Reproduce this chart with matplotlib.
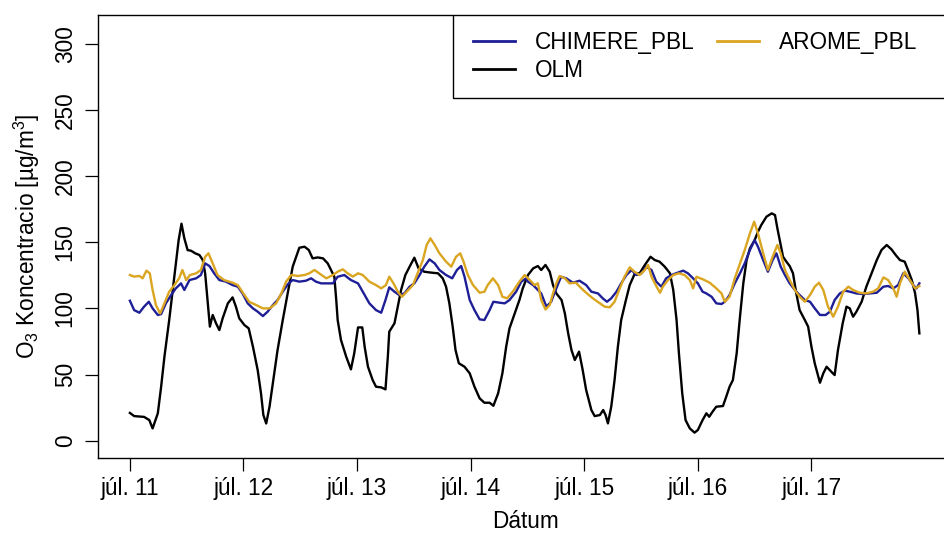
import matplotlib
matplotlib.use("Agg")
import matplotlib.pyplot as plt
from matplotlib.patches import Rectangle
from matplotlib.lines import Line2D

plt.rcParams["font.family"] = ["Liberation Sans", "DejaVu Sans"]
plt.rcParams["mathtext.fontset"] = "custom"
plt.rcParams["mathtext.rm"] = "Liberation Sans"
plt.rcParams["mathtext.it"] = "Liberation Sans:italic"

# hours since jul. 11 00:00, ozone in ug/m3
olm_h = [0, 0.9, 3.0, 4.1, 4.8, 5.9, 6.6, 7.3, 8.3, 9.4, 10.3, 10.9, 11.5, 12.2, 12.9,
         13.8, 14.7, 15.4, 15.9, 16.4, 16.9, 17.5, 18.2, 18.9, 19.6, 20.7, 21.7, 22.4,
         23.1, 24.2, 25.1, 26.0, 27.0, 27.7, 28.2, 28.8, 29.5, 30.2, 31.2, 32.3, 33.4,
         34.4, 35.8, 36.9, 37.8, 38.6, 39.7, 40.8, 41.8, 43.2, 43.6, 43.9, 44.6, 45.7,
         46.7, 47.4, 48.2, 49.1, 49.6, 50.3, 51.3, 52.0, 53.1, 54.0, 54.5, 54.8, 55.9,
         56.6, 57.3, 58.2, 59.1, 60.1, 61.0, 62.2, 63.7, 65.1, 66.1, 66.8, 67.5, 68.2,
         68.8, 69.5, 70.7, 71.8, 72.8, 73.9, 74.9, 76.0, 76.8, 77.8, 78.7, 79.5, 80.2,
         81.3, 82.3, 83.0, 84.1, 85.2, 86.2, 86.9, 87.8, 88.7, 89.4, 90.1, 91.2, 91.9,
         92.6, 93.3, 94.0, 94.9, 95.6, 96.4, 97.5, 98.2, 99.3, 100.0, 100.5, 101.0,
         101.7, 102.4, 103.1, 103.8, 104.8, 105.6, 106.7, 107.7, 108.8, 109.5, 110.0,
         110.9, 111.9, 113.0, 114.1, 114.8, 115.5, 116.0, 116.7, 117.4, 118.3, 119.3,
         120.0, 121.0, 121.8, 122.4, 123.1, 123.9, 125.3, 126.0, 126.7, 127.4, 128.2,
         128.9, 129.6, 130.3, 131.0, 132.0, 132.7, 133.4, 134.5, 135.6, 136.3, 136.8,
         137.3, 138.0, 138.7, 139.4, 140.1, 140.8, 141.5, 142.6, 143.3, 144.0, 144.7,
         145.8, 146.5, 147.2, 148.2, 148.9, 149.6, 150.6, 151.4, 152.1, 152.8, 153.5,
         154.6, 155.6, 156.7, 157.8, 158.8, 159.9, 160.9, 161.8, 162.7, 163.7, 164.4,
         165.2, 165.9, 166.4, 166.8]
olm_v = [21, 18.6, 18, 15.6, 9.3, 20.7, 40.8, 63.5, 91, 124, 151.6, 164, 153, 144, 143.6,
         141.6, 140.3, 136.5, 126.5, 106.3, 86.2, 95, 88.7, 83.6, 92.5, 103.8, 108.3, 101.3,
         92.5, 87.4, 84.9, 71, 53.4, 35.8, 19.4, 13, 25.7, 43.3, 68.5, 91.2, 112.6,
         131.5, 145.8, 146.6, 144.1, 137.8, 138.5, 137.8, 134, 123.9, 106.3, 91.2, 76.1, 63.5,
         53.9, 66, 85.6, 85.6, 71, 55.9, 45.8, 40.8, 40.3, 38.8, 63.5, 82.4, 88.7,
         101.3, 113.9, 125.2, 131.5, 138.3, 130.2, 127.7, 127, 126.5, 122.7, 116.4, 103.8, 86.2,
         68.5, 58.5, 55.9, 50.9, 40.8, 32, 28.7, 28.7, 26.4, 35.8, 50.9, 71, 84.9,
         96.2, 106.3, 115.1, 125.2, 130.2, 132, 129, 132.8, 127.7, 117.6, 111.3, 106.3, 96.2,
         81.1, 68.5, 61, 67.3, 54.7, 38.3, 23.2, 18.6, 19.4, 23.2, 19.4, 13.1,
         25.7, 45.8, 71, 91.2, 106.3, 117.6, 126.5, 126.5, 132.8, 136.5, 139,
         136.5, 135.3, 131.5, 126.5, 113.9, 91.2, 66, 35.8, 15.6, 9.3, 6.1,
         8.1, 15.6, 20.7, 18.1, 21.9, 25.7, 26.2, 33.3, 40.8, 45.8, 66,
         93.7, 118.9, 136.5, 145.3, 151.6, 157.9, 163, 169.3, 171.8, 170.5, 160.5,
         151.6, 139, 135.3, 132, 126.5, 111.3, 98.7, 91.2, 86.2, 71, 58.4,
         43.8, 50.9, 55.9, 52.1, 49.6, 68.5, 88.7, 101.3, 100, 93.7, 97.5,
         105, 116.4, 126.5, 136.5, 144.1, 147.9, 144.6, 140.3, 136.5, 135.3, 129,
         121.4, 111.3, 98.7, 81.1]

chimere_h = [0, 0.9, 2.0, 3.0, 4.0, 4.8, 5.9, 6.6, 7.6, 8.7, 9.7, 10.8, 11.5, 12.6, 14.0,
             15.0, 15.9, 16.8, 17.8, 18.9, 20.3, 21.7, 22.8, 23.8, 24.9, 26.0, 27.0, 28.1,
             29.1, 30.2, 31.2, 32.3, 33.4, 34.4, 35.8, 37.2, 38.3, 39.3, 40.4, 41.5, 42.9,
             43.9, 45.3, 46.7, 48.2, 49.2, 50.6, 52.0, 53.1, 54.0, 54.8, 55.9, 56.9, 58.0,
             59.1, 60.1, 61.2, 62.2, 63.3, 64.4, 65.4, 66.8, 68.1, 69.1, 70.0, 70.7, 71.8,
             72.8, 73.9, 74.9, 76.0, 76.8, 78.1, 79.2, 80.2, 81.6, 82.7, 83.7, 84.1, 85.2,
             86.2, 86.9, 88.0, 89.0, 90.1, 91.1, 92.2, 93.6, 95.0, 96.4, 97.5, 98.9, 99.9,
             100.8, 101.7, 102.8, 103.8, 104.9, 106.0, 107.0, 108.1, 109.1, 110.2, 111.2,
             112.3, 113.3, 114.4, 115.8, 116.9, 117.9, 119.0, 120.0, 121.0, 121.8, 122.9,
             123.9, 125.0, 125.7, 126.7, 127.8, 128.9, 129.9, 131.0, 132.0, 132.7, 133.8,
             134.8, 135.8, 136.6, 137.5, 138.4, 139.4, 140.5, 141.5, 142.6, 143.7, 144.7,
             145.8, 147.0, 147.9, 148.9, 150.0, 151.1, 152.1, 153.5, 154.9, 156.3, 157.8,
             159.2, 160.2, 161.3, 162.3, 163.4, 164.5, 165.5, 166.2, 166.8]
chimere_v = [105.8, 98.7, 96.7, 101.3, 105, 100, 95, 95.7, 103.8, 110, 115.1, 118.9, 113.9, 121.4, 122.7,
             125.2, 134, 132, 126.5, 121.4, 120.2, 117.6, 116.4, 111.3, 103.8, 100, 97.5, 94.2,
             97.5, 102.5, 106.3, 112.6, 118.4, 121.4, 120.2, 120.9, 122.7, 120.2, 118.9, 118.9, 118.9,
             123.9, 125.2, 121.4, 118.9, 112.6, 103.8, 98.7, 96.7, 106.3, 115.9, 112.6, 110.1, 111.3,
             116.4, 118.9, 125.2, 131.5, 137, 134, 129, 125.2, 122.7, 129, 132, 123.9, 106.3,
             98.7, 91.7, 91.2, 98.7, 105, 104.3, 103.8, 106.3, 112.6, 120.2, 122.7, 120.2, 117.6,
             113.9, 111.3, 101.3, 105, 115.1, 123.9, 122.7, 119.4, 120.9, 117.6, 112.6, 111.3, 107.6,
             105, 107.6, 112.6, 118.9, 125.2, 129, 125.2, 126.5, 131.5, 129, 120.2,
             116.4, 122.7, 125.2, 127, 128.5, 126.5, 122.7, 118.9, 112.6, 111.3, 108.8,
             103.8, 103.3, 105, 110.1, 118.9, 126.5, 134, 144.1, 151.6, 146.6, 136.5,
             127.7, 136.5, 141.6, 131.5, 125.2, 118.9, 113.9, 110.1, 106.3, 105, 100,
             95, 95, 97.5, 106.3, 111.3, 113.4, 112.6, 111.3, 110.8, 111.3, 111.8,
             116.4, 116.9, 115.1, 117.6, 126.5, 122.7, 117.6, 115.1, 118.9]

arome_h = [0, 0.9, 2.0, 2.7, 3.5, 4.2, 4.8, 5.5, 6.4, 7.3, 8.3, 9.4, 10.4, 11.1, 11.9,
           12.7, 14.0, 15.0, 15.9, 16.6, 17.5, 18.5, 19.9, 21.7, 22.8, 24.2, 25.2, 26.7,
           28.1, 29.5, 30.9, 32.0, 33.0, 34.1, 35.5, 36.9, 37.9, 39.0, 40.0, 41.5, 42.9,
           43.9, 45.0, 46.0, 47.1, 48.2, 49.2, 50.6, 52.0, 53.1, 54.1, 54.8, 55.7, 56.6,
           57.5, 58.5, 59.8, 60.8, 61.9, 62.7, 63.5, 64.4, 65.4, 66.8, 67.9, 68.9, 69.8,
           70.5, 71.4, 72.5, 73.9, 74.9, 75.6, 76.7, 77.8, 78.7, 79.7, 80.9, 82.3, 83.4,
           84.5, 85.5, 86.2, 86.9, 87.8, 88.7, 89.4, 90.1, 90.8, 91.9, 92.9, 94.2, 95.4,
           96.4, 97.8, 99.3, 100.3, 101.4, 102.4, 103.5, 104.5, 105.6, 106.6, 107.7, 108.8,
           109.5, 110.2, 111.1, 112.0, 112.6, 113.7, 114.8, 116.0, 117.2, 118.3, 119.0,
           119.7, 121.1, 122.5, 123.9, 125.0, 125.7, 126.7, 127.8, 128.9, 129.9, 131.0,
           131.9, 132.7, 133.8, 134.8, 135.8, 136.8, 137.5, 138.4, 139.4, 140.5, 141.5,
           142.6, 143.7, 144.7, 145.6, 146.5, 147.5, 148.6, 149.6, 150.7, 151.8, 152.8,
           154.2, 155.6, 157.0, 158.1, 159.2, 160.2, 161.3, 162.0, 162.7, 163.7, 164.8,
           165.9, 166.8]
arome_v = [125.2, 124, 124.5, 122.7, 128.5, 126.5, 113.9, 102.5, 96.2, 103.8, 112.6, 117.6, 122.7, 129, 121.4,
           125.2, 126.5, 129, 139, 141.6, 134, 125.2, 121.4, 119.4, 117.6, 110.1, 105, 102.5,
           100, 100, 103.8, 111.3, 120.2, 125.2, 124.5, 125.2, 126.5, 129, 126.5, 122.7, 125.2,
           127.7, 129.5, 126.5, 124, 126.5, 125.2, 120.2, 117.6, 115.1, 117.6, 123.9, 118.9, 112.6,
           108.8, 112.6, 117.6, 126.5, 136.5, 147.9, 152.9, 147.9, 141.6, 135.3, 131.5, 139, 141.6,
           135.3, 125.2, 117.6, 111.8, 112.6, 117.6, 122.7, 117.6, 108.8, 107.6, 112.6, 120.2, 125.2,
           121.4, 117.6, 118.9, 106.3, 99.2, 102.5, 111.3, 118.9, 124.5, 122.7, 118.9, 119.4, 115.1,
           111.8, 107.6, 103.8, 101.3, 100.8, 105, 115.1, 123.9, 131, 127.7, 125.2, 129,
           132.8, 123.9, 117.6, 111.8, 116.4, 121.4, 125.2, 126.5, 125.2, 121.4, 115.1,
           123.9, 121.9, 119.4, 115.1, 111.3, 105, 108.8, 122.7, 134, 144.1, 156.7,
           165.5, 156.7, 141.6, 129, 139, 147.9, 141.6, 129, 121.4, 113.9, 108.8,
           105, 110.1, 116.4, 119.4, 113.9, 101.3, 93.7, 101.3, 112.6, 116.4, 113.9,
           111.8, 111.3, 112.6, 115.1, 123.4, 121.4, 115.1, 108.8, 118.9, 127.7, 121.4,
           115.1, 116.9]

day_ticks = [0, 24, 48, 72, 96, 120, 144]
day_labels = ["júl. 11", "júl. 12", "júl. 13", "júl. 14", "júl. 15", "júl. 16", "júl. 17"]
y_ticks = [0, 50, 100, 150, 200, 250, 300]

c_chimere = "#1e1e96"
c_arome = "#DAA520"
c_olm = "black"
fs = 16.3

fig = plt.figure(figsize=(9.44, 5.39), dpi=100)
ax = fig.add_axes([0.1041, 0.1497, 0.9044, 0.8230])

ax.plot(olm_h, olm_v, color=c_olm, lw=1.7)
ax.plot(chimere_h, chimere_v, color=c_chimere, lw=1.7)
ax.plot(arome_h, arome_v, color=c_arome, lw=1.7)

ax.set_xlim(-6.68, 173.7)
ax.set_ylim(-13.3, 321.9)
ax.set_xticks(day_ticks)
ax.set_xticklabels(day_labels)
ax.set_yticks(y_ticks)
ax.set_yticklabels([str(t) for t in y_ticks], rotation=90, va="center")
ax.tick_params(axis="both", direction="out", length=9.5, width=0.9, labelsize=fs, colors="black")
ax.tick_params(axis="x", pad=4)
ax.tick_params(axis="y", pad=6)
for sp in ax.spines.values():
    sp.set_linewidth(1.0)

fig.text(0.5565, 1 - 522 / 539, "Dátum", ha="center", va="center", fontsize=fs)
fig.text(27 / 944, 1 - 236 / 539, "O$_3$ Koncentracio [µg/m$^3$]", rotation=90,
         ha="center", va="center", fontsize=fs)

# legend box (R style, top right)
ax_w = 952 - 98.3
ax_h = 458.3 - 14.7
lx0 = (452.7 - 98.3) / ax_w
ly0 = (458.3 - 98) / ax_h
ax.add_patch(Rectangle((lx0, ly0), 1 - lx0, 1 - ly0, transform=ax.transAxes,
                       facecolor="white", edgecolor="black", lw=1.0, zorder=5))
handles = [Line2D([], [], color=c_chimere, lw=2),
           Line2D([], [], color=c_olm, lw=2),
           Line2D([], [], color=c_arome, lw=2)]
labels = ["CHIMERE_PBL", "OLM", "AROME_PBL"]
leg = ax.legend(handles, labels, ncol=2, frameon=False, fontsize=fs, loc="upper left",
                bbox_to_anchor=((472.7 - 98.3) / ax_w, (458.3 - 31) / ax_h),
                handlelength=1.86, handletextpad=0.88, columnspacing=1.0,
                labelspacing=0.2, borderpad=0, borderaxespad=0)
leg.set_zorder(6)

fig.savefig("out.png", dpi=100)
